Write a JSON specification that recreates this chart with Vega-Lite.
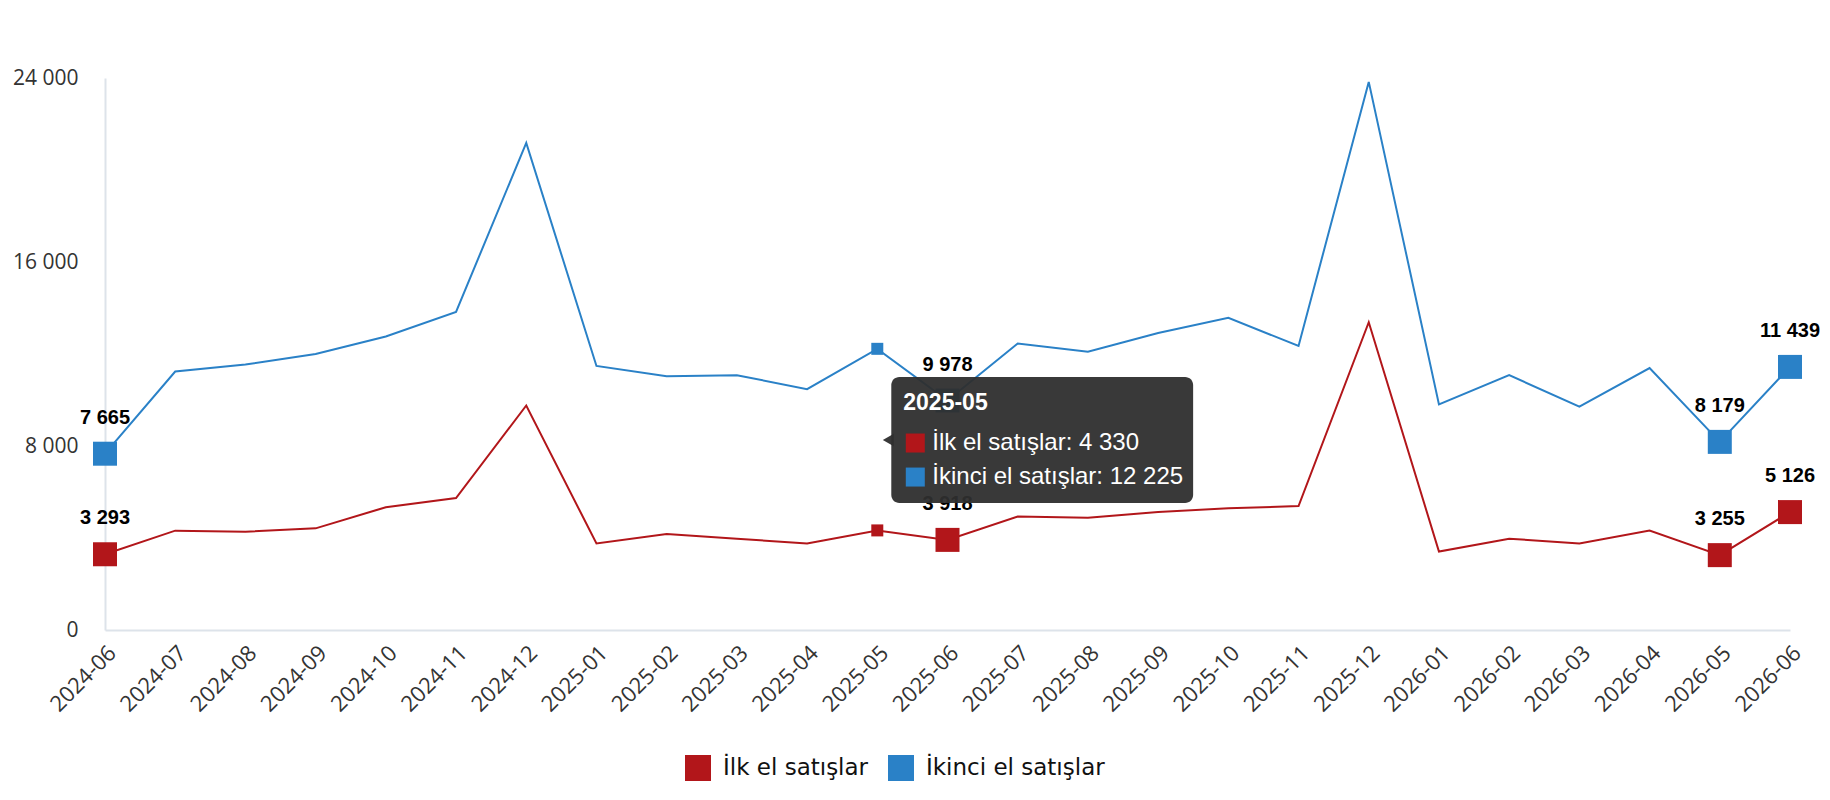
{
  "$schema": "https://vega.github.io/schema/vega-lite/v6.json",
  "width": 1685,
  "height": 552,
  "autosize": "none",
  "padding": {"left": 105, "top": 78, "right": 40, "bottom": 170},
  "background": "white",
  "config": {
    "view": {"stroke": null},
    "font": "Open Sans",
    "locale": {"number": {"decimal": ",", "thousands": " ", "grouping": [3], "currency": ["", ""]}}
  },
  "resolve": {"legend": {"color": "independent"}},
  "datasets": {
    "sales": [
      {"month": "2024-06", "series": "İlk el satışlar", "value": 3293},
      {"month": "2024-07", "series": "İlk el satışlar", "value": 4320},
      {"month": "2024-08", "series": "İlk el satışlar", "value": 4270},
      {"month": "2024-09", "series": "İlk el satışlar", "value": 4420},
      {"month": "2024-10", "series": "İlk el satışlar", "value": 5340},
      {"month": "2024-11", "series": "İlk el satışlar", "value": 5740},
      {"month": "2024-12", "series": "İlk el satışlar", "value": 9760},
      {"month": "2025-01", "series": "İlk el satışlar", "value": 3760},
      {"month": "2025-02", "series": "İlk el satışlar", "value": 4170},
      {"month": "2025-03", "series": "İlk el satışlar", "value": 3970},
      {"month": "2025-04", "series": "İlk el satışlar", "value": 3760},
      {"month": "2025-05", "series": "İlk el satışlar", "value": 4330},
      {"month": "2025-06", "series": "İlk el satışlar", "value": 3918},
      {"month": "2025-07", "series": "İlk el satışlar", "value": 4930},
      {"month": "2025-08", "series": "İlk el satışlar", "value": 4880},
      {"month": "2025-09", "series": "İlk el satışlar", "value": 5130},
      {"month": "2025-10", "series": "İlk el satışlar", "value": 5290},
      {"month": "2025-11", "series": "İlk el satışlar", "value": 5390},
      {"month": "2025-12", "series": "İlk el satışlar", "value": 13380},
      {"month": "2026-01", "series": "İlk el satışlar", "value": 3410},
      {"month": "2026-02", "series": "İlk el satışlar", "value": 3970},
      {"month": "2026-03", "series": "İlk el satışlar", "value": 3760},
      {"month": "2026-04", "series": "İlk el satışlar", "value": 4320},
      {"month": "2026-05", "series": "İlk el satışlar", "value": 3255},
      {"month": "2026-06", "series": "İlk el satışlar", "value": 5126},
      {"month": "2024-06", "series": "İkinci el satışlar", "value": 7665},
      {"month": "2024-07", "series": "İkinci el satışlar", "value": 11240},
      {"month": "2024-08", "series": "İkinci el satışlar", "value": 11540},
      {"month": "2024-09", "series": "İkinci el satışlar", "value": 12000},
      {"month": "2024-10", "series": "İkinci el satışlar", "value": 12760},
      {"month": "2024-11", "series": "İkinci el satışlar", "value": 13830},
      {"month": "2024-12", "series": "İkinci el satışlar", "value": 21180},
      {"month": "2025-01", "series": "İkinci el satışlar", "value": 11480},
      {"month": "2025-02", "series": "İkinci el satışlar", "value": 11030},
      {"month": "2025-03", "series": "İkinci el satışlar", "value": 11080},
      {"month": "2025-04", "series": "İkinci el satışlar", "value": 10470},
      {"month": "2025-05", "series": "İkinci el satışlar", "value": 12225},
      {"month": "2025-06", "series": "İkinci el satışlar", "value": 9978},
      {"month": "2025-07", "series": "İkinci el satışlar", "value": 12455},
      {"month": "2025-08", "series": "İkinci el satışlar", "value": 12100},
      {"month": "2025-09", "series": "İkinci el satışlar", "value": 12910},
      {"month": "2025-10", "series": "İkinci el satışlar", "value": 13570},
      {"month": "2025-11", "series": "İkinci el satışlar", "value": 12350},
      {"month": "2025-12", "series": "İkinci el satışlar", "value": 23830},
      {"month": "2026-01", "series": "İkinci el satışlar", "value": 9810},
      {"month": "2026-02", "series": "İkinci el satışlar", "value": 11080},
      {"month": "2026-03", "series": "İkinci el satışlar", "value": 9710},
      {"month": "2026-04", "series": "İkinci el satışlar", "value": 11390},
      {"month": "2026-05", "series": "İkinci el satışlar", "value": 8179},
      {"month": "2026-06", "series": "İkinci el satışlar", "value": 11439}
    ]
  },
  "layer": [
    {
      "data": {"name": "sales"},
      "mark": {"type": "line", "strokeWidth": 2},
      "encoding": {
        "x": {
          "field": "month", "type": "ordinal",
          "scale": {"type": "point", "padding": 0},
          "axis": {"title": null, "labelAngle": -45, "labelFont": "Open Sans", "labelFontSize": 22, "labelColor": "#333333", "labelPadding": 12, "ticks": false, "domainColor": "#dde3ea", "domainWidth": 2, "grid": false}
        },
        "y": {
          "field": "value", "type": "quantitative",
          "scale": {"domain": [0, 24000], "nice": false},
          "axis": {"title": null, "values": [0, 8000, 16000, 24000], "labelExpr": "format(datum.value, ',d')", "labelFont": "Open Sans", "labelFontSize": 21, "labelColor": "#333333", "labelPadding": 27, "ticks": false, "grid": false, "domainColor": "#dde3ea", "domainWidth": 2}
        },
        "color": {
          "field": "series", "type": "nominal",
          "scale": {"domain": ["İlk el satışlar", "İkinci el satışlar"], "range": ["#b2161a", "#2a81c7"]},
          "legend": null
        }
      }
    },
    {
      "data": {"name": "sales"},
      "transform": [{"filter": {"field": "month", "oneOf": ["2024-06", "2025-06", "2026-05", "2026-06"]}}],
      "mark": {"type": "point", "shape": "square", "filled": true, "opacity": 1, "size": 576},
      "encoding": {
        "x": {"field": "month", "type": "ordinal"},
        "y": {"field": "value", "type": "quantitative"},
        "color": {
          "field": "series", "type": "nominal",
          "legend": {"orient": "none", "legendX": 580, "legendY": 677, "direction": "horizontal", "title": null, "symbolType": "square", "symbolSize": 676, "symbolOpacity": 1, "labelFontSize": 23, "labelColor": "#111111", "labelOffset": 12, "columnPadding": 19, "labelFont": "DejaVu Sans", "symbolStrokeWidth": 0, "labelLimit": 400}
        }
      }
    },
    {
      "data": {"name": "sales"},
      "transform": [{"filter": {"field": "month", "oneOf": ["2024-06", "2025-06", "2026-05", "2026-06"]}}],
      "mark": {"type": "text", "font": "Liberation Sans", "fontWeight": "bold", "fontSize": 20, "color": "#000000", "dy": -36, "baseline": "middle"},
      "encoding": {
        "x": {"field": "month", "type": "ordinal"},
        "y": {"field": "value", "type": "quantitative"},
        "text": {"field": "value", "type": "quantitative", "format": ","}
      }
    },
    {
      "data": {"name": "sales"},
      "transform": [{"filter": {"field": "month", "equal": "2025-05"}}],
      "mark": {"type": "point", "shape": "square", "filled": true, "opacity": 1, "size": 144},
      "encoding": {
        "x": {"field": "month", "type": "ordinal"},
        "y": {"field": "value", "type": "quantitative"},
        "color": {"field": "series", "type": "nominal", "legend": null}
      }
    },
    {
      "data": {"values": [{}]},
      "mark": {"type": "rect", "color": "#2e2e2e", "opacity": 0.95, "cornerRadius": 8, "xOffset": 14, "x2Offset": 35},
      "encoding": {
        "x": {"datum": "2025-05", "type": "ordinal"},
        "x2": {"datum": "2025-09"},
        "y": {"datum": 11000, "type": "quantitative"},
        "y2": {"datum": 5520}
      }
    },
    {
      "data": {"values": [{}]},
      "mark": {"type": "point", "shape": "triangle-left", "filled": true, "color": "#2e2e2e", "opacity": 0.95, "size": 160, "xOffset": 11},
      "encoding": {
        "x": {"datum": "2025-05", "type": "ordinal"},
        "y": {"datum": 8260, "type": "quantitative"}
      }
    },
    {
      "data": {"values": [{}]},
      "mark": {"type": "text", "text": "2025-05", "font": "Liberation Sans", "fontWeight": "bold", "fontSize": 23, "color": "#ffffff", "align": "left", "baseline": "middle", "dx": 26},
      "encoding": {
        "x": {"datum": "2025-05", "type": "ordinal"},
        "y": {"datum": 9870, "type": "quantitative"}
      }
    },
    {
      "data": {"values": [{}]},
      "mark": {"type": "point", "shape": "square", "filled": true, "color": "#b2161a", "opacity": 1, "size": 361, "xOffset": 38},
      "encoding": {
        "x": {"datum": "2025-05", "type": "ordinal"},
        "y": {"datum": 8130, "type": "quantitative"}
      }
    },
    {
      "data": {"values": [{}]},
      "mark": {"type": "point", "shape": "square", "filled": true, "color": "#2a81c7", "opacity": 1, "size": 361, "xOffset": 38},
      "encoding": {
        "x": {"datum": "2025-05", "type": "ordinal"},
        "y": {"datum": 6650, "type": "quantitative"}
      }
    },
    {
      "data": {"values": [{}]},
      "mark": {"type": "text", "text": "İlk el satışlar: 4 330", "font": "Liberation Sans", "fontSize": 24, "color": "#ffffff", "align": "left", "baseline": "middle", "dx": 55},
      "encoding": {
        "x": {"datum": "2025-05", "type": "ordinal"},
        "y": {"datum": 8130, "type": "quantitative"}
      }
    },
    {
      "data": {"values": [{}]},
      "mark": {"type": "text", "text": "İkinci el satışlar: 12 225", "font": "Liberation Sans", "fontSize": 24, "color": "#ffffff", "align": "left", "baseline": "middle", "dx": 55},
      "encoding": {
        "x": {"datum": "2025-05", "type": "ordinal"},
        "y": {"datum": 6650, "type": "quantitative"}
      }
    }
  ]
}
